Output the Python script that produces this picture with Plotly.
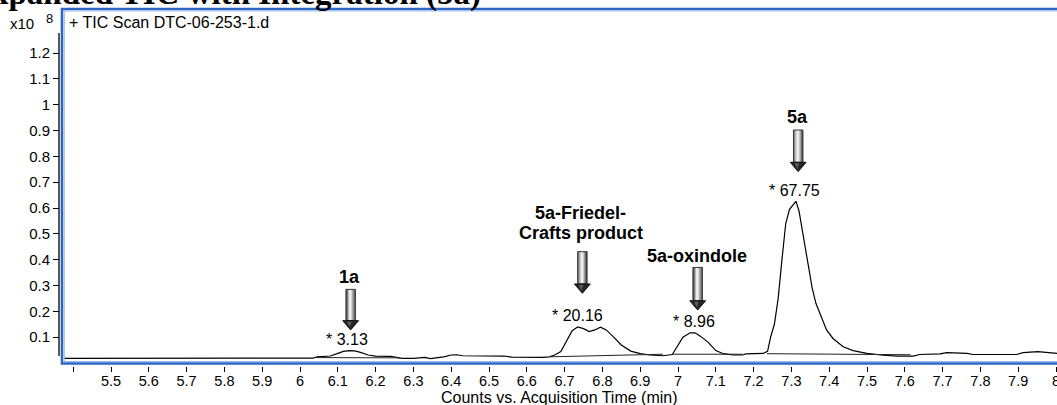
import plotly.graph_objects as go

# ---------------- data ----------------
time_min = [5.376, 6.00, 6.035, 6.045, 6.08, 6.10, 6.115, 6.13, 6.145, 6.16, 6.18, 6.20,
            6.24, 6.255, 6.27, 6.30, 6.32, 6.33, 6.345, 6.36, 6.38, 6.40, 6.415, 6.43,
            6.46, 6.50, 6.54, 6.56, 6.60, 6.64, 6.66, 6.675, 6.69, 6.70, 6.71, 6.72,
            6.735, 6.75, 6.765, 6.78, 6.795, 6.81, 6.83, 6.85, 6.875, 6.90, 6.925, 6.945,
            6.96, 6.985, 6.997, 7.013, 7.032, 7.045, 7.06, 7.08, 7.10, 7.12, 7.146, 7.17,
            7.18, 7.225, 7.237, 7.245, 7.255, 7.265, 7.275, 7.285, 7.295, 7.305, 7.312,
            7.32, 7.33, 7.34, 7.355, 7.365, 7.376, 7.393, 7.41, 7.437, 7.463, 7.50, 7.543,
            7.58, 7.622, 7.64, 7.693, 7.711, 7.764, 7.781, 7.896, 7.913, 7.952, 7.975, 8.003]
tic_counts_1e8 = [0.018, 0.018, 0.019, 0.024, 0.027, 0.037, 0.045, 0.048, 0.047, 0.041, 0.031, 0.027,
                  0.026, 0.022, 0.018, 0.018, 0.019, 0.022, 0.017, 0.020, 0.024, 0.031, 0.032, 0.028,
                  0.027, 0.027, 0.027, 0.023, 0.022, 0.022, 0.024, 0.032, 0.044, 0.070, 0.100, 0.125,
                  0.140, 0.133, 0.122, 0.128, 0.139, 0.128, 0.100, 0.070, 0.046, 0.036, 0.031, 0.028,
                  0.028, 0.033, 0.060, 0.100, 0.117, 0.117, 0.103, 0.080, 0.048, 0.036, 0.031, 0.031,
                  0.035, 0.037, 0.045, 0.100, 0.150, 0.250, 0.400, 0.540, 0.595, 0.612, 0.626,
                  0.590, 0.500, 0.410, 0.290, 0.230, 0.190, 0.128, 0.095, 0.063, 0.048, 0.037, 0.030,
                  0.027, 0.027, 0.033, 0.035, 0.040, 0.037, 0.033, 0.033, 0.040, 0.044, 0.041, 0.037]

# integration baselines (start time, start value, end time, end value)
integ_t0 = [6.040, 6.662, 6.985, 7.235]
integ_v0 = [0.021, 0.024, 0.034, 0.036]
integ_t1 = [6.265, 6.960, 7.170, 7.615]
integ_v1 = [0.020, 0.034, 0.034, 0.032]

# peaks
peak_rt = [6.134, 6.747, 7.052, 7.318]
peak_area_text = ["* 3.13", "* 20.16", "* 8.96", "* 67.75"]
peak_name_lines = [["1a"], ["5a-Friedel-", "Crafts product"], ["5a-oxindole"], ["5a"]]

xtick_vals = [round(5.4 + 0.1 * i, 1) for i in range(27)]
xtick_text = ["", "5.5", "5.6", "5.7", "5.8", "5.9", "6", "6.1", "6.2", "6.3", "6.4", "6.5",
              "6.6", "6.7", "6.8", "6.9", "7", "7.1", "7.2", "7.3", "7.4", "7.5", "7.6",
              "7.7", "7.8", "7.9", "8"]
ytick_vals = [0.1, 0.2, 0.3, 0.4, 0.5, 0.6, 0.7, 0.8, 0.9, 1.0, 1.1, 1.2]
ytick_text = ["0.1", "0.2", "0.3", "0.4", "0.5", "0.6", "0.7", "0.8", "0.9", "1", "1.1", "1.2"]

# ---------------- geometry ----------------
W, H = 1057, 405
PL, PT, PB = 50, 11, 366          # paper left / top / bottom in px
PW, PH = W - PL, PB - PT


def px(xp):
    return (xp - PL) / PW


def py(yp):
    return (PB - yp) / PH


SANS = "Liberation Sans, Arial, sans-serif"
SERIF = "Liberation Serif, Times New Roman, serif"
BLUE = "#2E66C6"
LBLUE = "#9DBBEA"

fig = go.Figure()

fig.add_trace(go.Scatter(x=time_min, y=tic_counts_1e8, mode="lines",
                         line=dict(color="black", width=1.2), hoverinfo="skip",
                         showlegend=False))
for t0, v0, t1, v1 in zip(integ_t0, integ_v0, integ_t1, integ_v1):
    fig.add_trace(go.Scatter(x=[t0, t1], y=[v0, v1], mode="lines",
                             line=dict(color="#222", width=1), hoverinfo="skip",
                             showlegend=False))

shapes = []
# blue frame
shapes.append(dict(type="rect", xref="paper", yref="paper", x0=px(62), x1=px(1080),
                   y0=py(363.5), y1=py(9), line=dict(color=BLUE, width=2.6), layer="above"))
shapes.append(dict(type="rect", xref="paper", yref="paper", x0=px(64.3), x1=px(1080),
                   y0=py(361.5), y1=py(11), line=dict(color=LBLUE, width=1), layer="above"))
# y axis line
shapes.append(dict(type="line", xref="paper", yref="paper", x0=px(59), x1=px(59),
                   y0=py(356), y1=py(33), line=dict(color="black", width=1.3)))

# gradient arrows
shaft_cols = ["#4d4d4d", "#7d7d7d", "#b5b5b5", "#e6e6e6", "#f2f2f2", "#c9c9c9",
              "#9a9a9a", "#6a6a6a", "#404040"]
arrow_top = [0.285, 0.431, 0.370, 0.902]
arrow_tip = [0.128, 0.270, 0.205, 0.741]
hw, hhw, hh = 0.0125, 0.021, 0.036
for tc, vt, vb in zip(peak_rt, arrow_top, arrow_tip):
    sb = vb + hh
    n = len(shaft_cols)
    for i, c in enumerate(shaft_cols):
        xa = tc - hw + 2 * hw * i / n
        xb = tc - hw + 2 * hw * (i + 1) / n
        shapes.append(dict(type="rect", xref="x", yref="y", x0=xa, x1=xb, y0=sb, y1=vt,
                           fillcolor=c, line=dict(width=0)))
    shapes.append(dict(type="rect", xref="x", yref="y", x0=tc - hw, x1=tc + hw, y0=sb, y1=vt,
                       line=dict(color="#333", width=1)))
    shapes.append(dict(type="path", xref="x", yref="y",
                       path=f"M {tc - hhw},{sb} L {tc + hhw},{sb} L {tc},{vb} Z",
                       fillcolor="#262626", line=dict(color="#111", width=1)))
    shapes.append(dict(type="path", xref="x", yref="y",
                       path=f"M {tc - hhw * 0.45},{sb - 0.004} L {tc + hhw * 0.1},{sb - 0.004} L {tc - hhw*0.1},{vb + 0.01} Z",
                       fillcolor="#5e5e5e", line=dict(width=0)))

annotations = []
# title (cut off at top)
annotations.append(dict(text="<b>Expanded TIC with Integration (5a)</b>", xref="paper", yref="paper",
                        x=px(-32), y=py(14), xanchor="left", yanchor="bottom", showarrow=False,
                        font=dict(family=SERIF, size=33, color="black")))
annotations.append(dict(text="+ TIC Scan DTC-06-253-1.d", xref="paper", yref="paper",
                        x=px(67), y=py(22.5), xanchor="left", yanchor="middle", showarrow=False,
                        font=dict(family=SANS, size=16, color="black")))
annotations.append(dict(text="x10", xref="paper", yref="paper", x=px(36), y=py(23.5),
                        xanchor="right", yanchor="middle", showarrow=False,
                        font=dict(family=SANS, size=15, color="black")))
annotations.append(dict(text="8", xref="paper", yref="paper", x=px(44), y=py(18.5),
                        xanchor="left", yanchor="middle", showarrow=False,
                        font=dict(family=SANS, size=13, color="black")))
annotations.append(dict(text="Counts vs. Acquisition Time (min)", xref="paper", yref="paper",
                        x=px(559), y=py(397.5), xanchor="center", yanchor="middle", showarrow=False,
                        font=dict(family=SANS, size=16, color="black")))

area_x = [6.124, 6.733, 7.042, 7.307]
area_y = [0.092, 0.182, 0.160, 0.667]
name_x = [6.132, 6.743, 7.049, 7.317]
name_y = [0.334, 0.580, 0.414, 0.951]
for ax_, ay_, txt in zip(area_x, area_y, peak_area_text):
    annotations.append(dict(text=txt, x=ax_, y=ay_, xref="x", yref="y", showarrow=False,
                            xanchor="center", yanchor="middle",
                            font=dict(family=SANS, size=16, color="black")))
for nx, ny, lines in zip(name_x, name_y, peak_name_lines):
    for k, ln in enumerate(lines):
        annotations.append(dict(text=f"<b>{ln}</b>", x=nx, y=ny - k * 0.076, xref="x", yref="y",
                                showarrow=False, xanchor="center", yanchor="middle",
                                font=dict(family=SANS, size=18, color="black")))

fig.update_layout(
    width=W, height=H,
    margin=dict(l=PL, r=0, t=PT, b=H - PB, autoexpand=False),
    paper_bgcolor="white", plot_bgcolor="white",
    showlegend=False,
    shapes=shapes, annotations=annotations,
    xaxis=dict(domain=[px(64), 1], range=[5.37566, 8.00265], anchor="free", position=0,
               tickmode="array", tickvals=xtick_vals, ticktext=xtick_text,
               ticks="outside", ticklen=5, tickwidth=1, tickcolor="black",
               ticklabeloverflow="allow", ticklabelstandoff=-3,
               showline=False, showgrid=False, zeroline=False, automargin=False,
               tickfont=dict(family=SANS, size=14.5, color="black")),
    yaxis=dict(domain=[py(362), 1], range=[0.00387, 1.3628], anchor="free", position=px(59),
               tickmode="array", tickvals=ytick_vals, ticktext=ytick_text,
               ticks="outside", ticklen=6, tickwidth=1, tickcolor="black",
               showline=False, showgrid=False, zeroline=False, automargin=False,
               tickfont=dict(family=SANS, size=15, color="black")),
)

fig.write_html("out.html", config={"displayModeBar": False},
               post_script="document.body.style.margin='0';document.body.style.overflow='hidden';")
